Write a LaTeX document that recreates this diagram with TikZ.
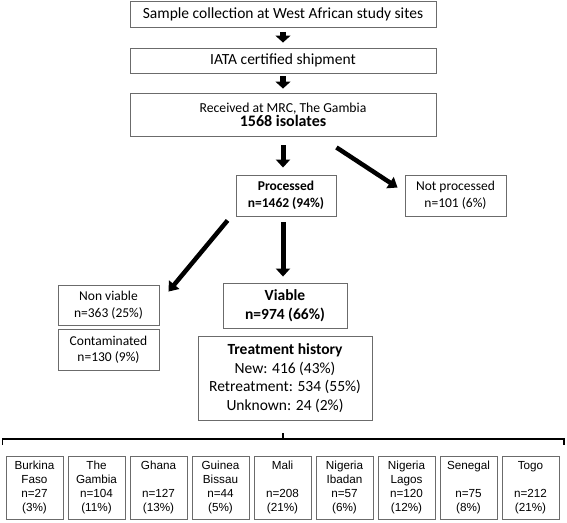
\documentclass[tikz,border=0pt]{standalone}
\usepackage{fontspec}
\setmainfont{Carlito}
\newfontfamily\arialf{Liberation Sans}
\usetikzlibrary{arrows.meta,calc}
\definecolor{boxgray}{gray}{0.42}
\tikzset{
  box/.style={draw=boxgray, line width=0.9pt, inner sep=0pt, align=center, anchor=center},
  cbox/.style={box, minimum width=57pt, minimum height=63pt, font=\arialf\fontsize{11.7}{14}\selectfont},
  blk/.style={line width=6pt, -{Triangle[length=7pt,width=15pt]}},
  thick arrow/.style={line width=5pt, -{Triangle[length=8pt,width=14pt]}},
  diag arrow/.style={line width=4.5pt, -{Triangle[length=9pt,width=13pt]}},
}
\begin{document}
\begin{tikzpicture}[x=1pt,y=1pt]
\useasboundingbox (0,0) rectangle (567,-522);
\node[box, minimum width=306pt, minimum height=26pt, font=\fontsize{15.5}{18}\selectfont] (b1) at (283,-14.5) {Sample collection at West African study sites};
\node[box, minimum width=306pt, minimum height=25pt, font=\fontsize{15.5}{18}\selectfont] (b2) at (283,-60.5) {IATA certified shipment};
\node[box, minimum width=306pt, minimum height=43pt] (b3) at (283,-114.5) {\fontsize{13.7}{20}\selectfont Received at MRC, The Gambia\\ \fontsize{16}{20}\selectfont\bfseries 1568 isolates};
\node[box, minimum width=100pt, minimum height=41pt, font=\fontsize{13.5}{17}\selectfont\bfseries] (proc) at (286,-195.5) {Processed\\n=1462 (94\%)};
\node[box, minimum width=101pt, minimum height=41pt, font=\fontsize{13.5}{17}\selectfont] (np) at (455.5,-195.5) {Not processed\\n=101 (6\%)};
\node[box, minimum width=101pt, minimum height=40pt, font=\fontsize{13.5}{16.5}\selectfont] (nv) at (108.5,-305) {Non viable\\n=363 (25\%)};
\node[box, minimum width=101pt, minimum height=41pt, font=\fontsize{13.5}{16.5}\selectfont] (cont) at (108.5,-349.5) {Contaminated\\n=130 (9\%)};
\node[box, minimum width=124pt, minimum height=45pt, font=\fontsize{15.5}{19}\selectfont\bfseries] (via) at (285,-305.5) {Viable\\n=974 (66\%)};
\node[box, minimum width=174pt, minimum height=84pt, font=\fontsize{15.5}{18.7}\selectfont] (th) at (285,-378) {\textbf{Treatment history}\\New: 416 (43\%)\\Retreatment: 534 (55\%)\\Unknown: 24 (2\%)};
% countries
\node[cbox] (c1) at (34.5,-487.5) {Burkina\\Faso\\n=27\\(3\%)};
\node[cbox] (c2) at (96.5,-487.5) {The\\Gambia\\n=104\\(11\%)};
\node[cbox] (c3) at (158.5,-487.5) {Ghana\\\mbox{}\\n=127\\(13\%)};
\node[cbox] (c4) at (220.5,-487.5) {Guinea\\Bissau\\n=44\\(5\%)};
\node[cbox] (c5) at (282.5,-487.5) {Mali\\\mbox{}\\n=208\\(21\%)};
\node[cbox] (c6) at (344.5,-487.5) {Nigeria\\Ibadan\\n=57\\(6\%)};
\node[cbox] (c7) at (406.5,-487.5) {Nigeria\\Lagos\\n=120\\(12\%)};
\node[cbox] (c8) at (468.5,-487.5) {Senegal\\\mbox{}\\n=75\\(8\%)};
\node[cbox] (c9) at (530.5,-487.5) {Togo\\\mbox{}\\n=212\\(21\%)};
% arrows
\draw[blk, shorten <=4pt, shorten >=5pt] (b1.south) -- (b2.north);
\draw[blk, shorten <=3pt, shorten >=4pt] (b2.south) -- (b3.north);
\draw[thick arrow, shorten <=9pt, shorten >=7pt] (b3.south) -- (b3.south |- proc.north);
\draw[thick arrow, shorten <=6pt, shorten >=6pt] (proc.south -| b3.south) -- (b3.south |- via.north);
\draw[diag arrow] ([shift={(0,-11)}]b3.south -| proc.east) -- ([shift={(-7,-13)}]np.north west);
\draw[diag arrow] ([shift={(-8,-4)}]proc.south west) -- ([shift={(9,-7)}]nv.north east);
% bracket
\coordinate (bl) at (2.5,-445);
\coordinate (br) at (564,-445);
\coordinate (tick) at (283,-433);
\draw[line width=1.3pt] (bl) -- ++(0,6) -- ([yshift=6pt]br) -- (br);
\draw[line width=1.3pt] (tick) -- ++(0,-6);
\end{tikzpicture}
\end{document}
